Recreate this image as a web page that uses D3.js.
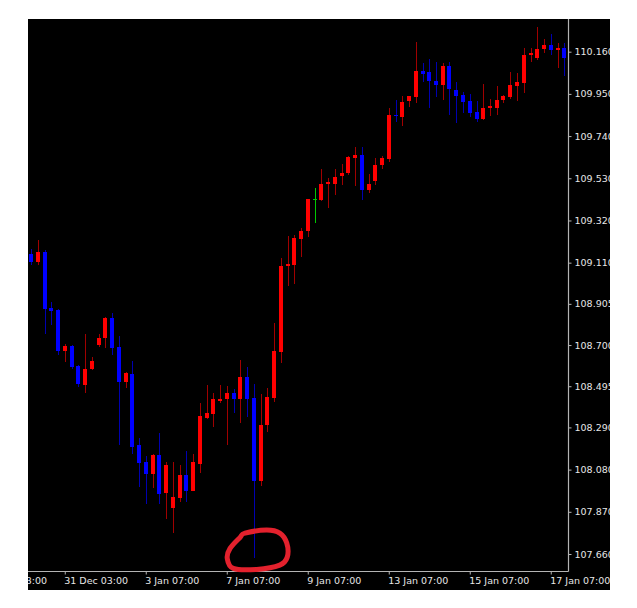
<!DOCTYPE html>
<html><head><meta charset="utf-8">
<script src="https://cdn.jsdelivr.net/npm/d3@7"></script>
<style>html,body{margin:0;padding:0;background:#fff;} svg{display:block;}</style>
</head><body>
<script>
// ---- data (USDJPY candles) ----
const openP = [109.153,109.113,109.163,108.883,108.874,108.674,108.697,108.597,108.501,108.577,
108.699,108.736,108.836,108.690,108.517,108.556,108.201,108.118,108.059,108.153,
107.963,107.889,107.940,108.054,107.975,108.109,108.338,108.353,108.421,108.431,
108.463,108.431,108.542,108.438,108.023,108.302,108.438,108.667,109.090,109.098,
109.228,109.264,109.427,109.422,109.501,109.505,109.538,109.556,109.632,109.646,
109.473,109.518,109.594,109.626,109.845,109.836,109.915,109.935,110.064,110.059,
110.016,109.994,110.089,109.969,109.945,109.915,109.860,109.824,109.878,109.878,
109.920,109.936,109.991,110.006,110.140,110.130,110.173,110.193,110.168,110.180];
const highP = [109.176,109.223,109.173,108.914,108.881,108.705,108.702,108.600,108.753,108.640,
108.755,108.841,108.861,108.745,108.567,108.620,108.236,108.148,108.156,108.261,
108.118,108.118,108.101,108.172,108.159,108.413,108.501,108.460,108.501,108.496,
108.480,108.625,108.592,108.506,108.456,108.485,108.811,109.132,109.243,109.248,
109.281,109.428,109.483,109.575,109.533,109.576,109.601,109.642,109.684,109.684,
109.551,109.631,109.641,109.878,109.920,109.941,109.941,110.208,110.105,110.125,
110.109,110.105,110.109,110.011,109.959,109.948,109.917,110.000,109.923,109.989,
109.944,110.059,110.052,110.177,110.177,110.284,110.222,110.248,110.205,110.205];
const lowP = [109.098,109.098,108.756,108.798,108.650,108.617,108.582,108.492,108.460,108.577,
108.689,108.687,108.649,108.202,108.484,108.158,107.995,107.909,107.990,107.909,
107.834,107.763,107.920,107.917,107.975,108.061,108.332,108.293,108.413,108.202,
108.363,108.310,108.343,107.638,107.998,108.266,108.418,108.612,108.995,109.004,
109.140,109.239,109.309,109.415,109.383,109.447,109.497,109.548,109.493,109.423,
109.458,109.495,109.578,109.610,109.810,109.792,109.883,109.905,110.011,109.880,
109.936,109.920,109.845,109.807,109.856,109.833,109.809,109.820,109.840,109.845,
109.906,109.925,109.916,109.953,110.110,110.119,110.152,110.144,110.080,110.039];
const closeP = [109.113,109.163,108.879,108.869,108.669,108.697,108.594,108.506,108.581,108.619,
108.736,108.834,108.689,108.517,108.562,108.194,108.113,108.059,108.153,107.960,
108.103,107.943,108.054,107.975,108.118,108.347,108.362,108.430,108.431,108.463,
108.431,108.542,108.433,108.023,108.302,108.441,108.670,109.093,109.102,109.231,
109.268,109.425,109.427,109.503,109.513,109.538,109.555,109.636,109.646,109.473,
109.501,109.596,109.631,109.845,109.842,109.911,109.940,110.064,110.051,110.013,
109.994,110.089,109.974,109.941,109.911,109.856,109.824,109.881,109.890,109.920,
109.941,109.994,110.009,110.144,110.152,110.175,110.193,110.168,110.180,110.130];
const yTicks = [110.160,109.950,109.740,109.530,109.320,109.110,108.905,108.700,108.495,108.290,108.080,107.870,107.660];
const xTickIndex = [-7,5,17,29,41,53,65,77];
const xTickLabels = ["27 Dec 23:00","31 Dec 03:00","3 Jan 07:00","7 Jan 07:00","9 Jan 07:00","13 Jan 07:00","15 Jan 07:00","17 Jan 07:00"];
const markedBar = 33; // bar whose low is circled

// ---- layout ----
const W = 637, H = 608;
const panel = {x0: 28, y0: 19, x1: 610, y1: 590};
const plotRight = 568, plotBottom = 571;
const n = openP.length;

const svg = d3.select("body").append("svg").attr("width", W).attr("height", H);
svg.append("rect").attr("width", W).attr("height", H).attr("fill", "#fff");
svg.append("defs").append("clipPath").attr("id", "clip").append("rect")
  .attr("x", panel.x0).attr("y", panel.y0).attr("width", panel.x1 - panel.x0).attr("height", panel.y1 - panel.y0);
svg.append("rect").attr("x", panel.x0).attr("y", panel.y0)
  .attr("width", panel.x1 - panel.x0).attr("height", panel.y1 - panel.y0).attr("fill", "#000");

const g = svg.append("g").attr("clip-path", "url(#clip)");

const x = d3.scaleLinear().domain([0, n - 1]).range([31, 31 + (n - 1) * 6.75]);
const y = d3.scaleLinear().domain([107.66, 110.16]).range([554, 51.7]);

const bars = d3.range(n).map(i => ({i, o: openP[i], h: highP[i], l: lowP[i], c: closeP[i]}));
const dir = d => d.c > d.o ? "up" : (d.c < d.o ? "down" : "doji");
const wickCol = {up: "#a00000", down: "#0000b0", doji: "#00c800"};
const bodyCol = {up: "#ff0000", down: "#0000ff", doji: "#00c800"};

const cg = g.append("g").attr("shape-rendering", "crispEdges");
cg.selectAll("line.wick").data(bars).join("line").attr("class", "wick")
  .attr("x1", d => Math.round(x(d.i)) + 0.5).attr("x2", d => Math.round(x(d.i)) + 0.5)
  .attr("y1", d => y(d.h)).attr("y2", d => y(d.l))
  .attr("stroke", d => wickCol[dir(d)]).attr("stroke-width", 1);
cg.selectAll("rect.body").data(bars).join("rect").attr("class", "body")
  .attr("x", d => Math.round(x(d.i)) - 2).attr("width", 4)
  .attr("y", d => Math.round(y(Math.max(d.o, d.c))))
  .attr("height", d => Math.max(1, Math.round(Math.abs(y(d.o) - y(d.c)))))
  .attr("fill", d => bodyCol[dir(d)]);

// ---- axes ----
const font = "'DejaVu Sans', Verdana, sans-serif";
const axisCol = "#b4b4b4";
const textCol = "#e6e6e6";

const yAxis = d3.axisRight(y).tickValues(yTicks).tickFormat(d3.format(".3f")).tickSize(3).tickPadding(3);
const ya = g.append("g").attr("transform", `translate(${plotRight + 0.5},0)`).call(yAxis);
ya.select(".domain").remove();
ya.selectAll(".tick line").attr("stroke", axisCol);
ya.selectAll("text").attr("fill", textCol).style("font-family", font).style("font-size", "9.5px");
g.append("line").attr("x1", plotRight + 0.5).attr("x2", plotRight + 0.5)
  .attr("y1", panel.y0).attr("y2", plotBottom + 0.5).attr("stroke", axisCol).attr("stroke-width", 1.2);

const xAxis = d3.axisBottom(x).tickValues(xTickIndex)
  .tickFormat((d, k) => xTickLabels[k]).tickSize(3).tickPadding(3);
const xa = g.append("g").attr("transform", `translate(0,${plotBottom + 0.5})`).call(xAxis);
xa.select(".domain").remove();
xa.selectAll(".tick line").attr("stroke", axisCol);
xa.selectAll("text").attr("fill", textCol).attr("text-anchor", "start").attr("x", -1).attr("y", 6)
  .style("font-family", font).style("font-size", "9.5px");
g.append("line").attr("x1", panel.x0).attr("x2", plotRight + 0.5)
  .attr("y1", plotBottom + 0.5).attr("y2", plotBottom + 0.5).attr("stroke", axisCol).attr("stroke-width", 1.2);

// ---- hand-drawn red circle around the spike low ----
const ax = x(markedBar), ay = y(lowP[markedBar]);
const loop = [[-8.75,-25.3],[13,-28.3],[26,-25.3],[33,-15.3],[33.5,-1.3],[26,6.7],[3,11],[-20.5,10],[-26.5,0],[-23.7,-10],[-13.7,-21]];
svg.append("path")
  .attr("d", d3.line().curve(d3.curveCardinalClosed)(loop.map(p => [ax + p[0], ay + p[1]])))
  .attr("fill", "none").attr("stroke", "#e3212d").attr("stroke-width", 5).attr("stroke-linejoin", "round");
</script>
</body></html>
